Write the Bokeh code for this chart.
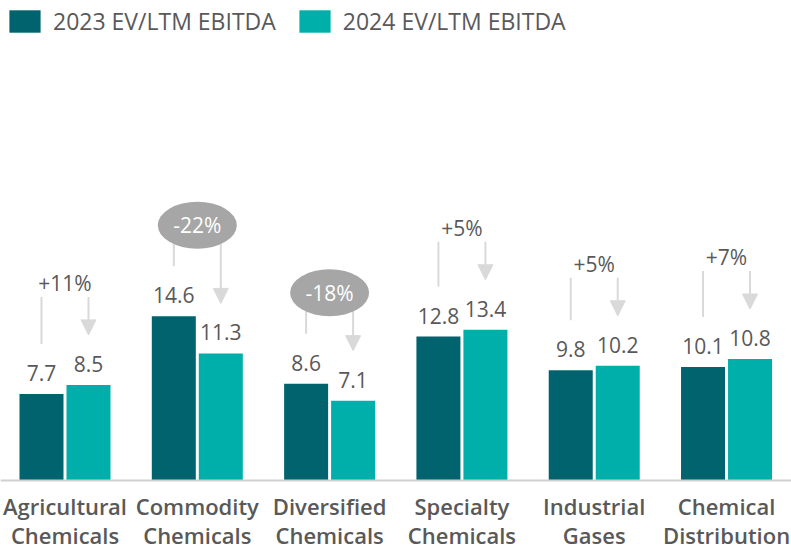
import numpy as np
from bokeh.plotting import figure
from bokeh.models import (ColumnDataSource, Range1d, Span,
                          Arrow, NormalHead, Legend, LegendItem)
from bokeh.core.properties import value
from bokeh.embed import file_html
from bokeh.resources import INLINE

# ---------------- data ----------------
categories_line1 = ["Agricultural", "Commodity", "Diversified", "Specialty", "Industrial", "Chemical"]
categories_line2 = ["Chemicals", "Chemicals", "Chemicals", "Chemicals", "Gases", "Distribution"]
ev_2023 = [7.7, 14.6, 8.6, 12.8, 9.8, 10.1]
ev_2024 = [8.5, 11.3, 7.1, 13.4, 10.2, 10.8]
change_labels = ["+11%", "-22%", "-18%", "+5%", "+5%", "+7%"]
series_names = ["2023 EV/LTM EBITDA", "2024 EV/LTM EBITDA"]

# ---------------- style / layout ----------------
C23 = "#00636E"
C24 = "#00AFAA"
TXT = "#595959"
BRK = "#D9D9D9"
ELL = "#A6A6A6"
FONT = "Open Sans"
FONT_SB = "Open Sans Semibold, Open Sans SemiBold, Open Sans"

W, H = 791, 550
ZERO_PX = 480.0            # screen row of the value 0
SCALE = 11.25              # pixels per unit
PX = 1.0 / SCALE           # data units per pixel
Y_START = -(H - ZERO_PX) * PX
Y_END = ZERO_PX * PX
X_START, X_END = -0.4875, 5.491
OFFSET = 0.1776            # dodge of the two bars
BAR_W = 0.3326

idx = np.arange(len(categories_line1))
v23 = np.array(ev_2023)
v24 = np.array(ev_2024)
x23 = idx - OFFSET
x24 = idx + OFFSET
vmax = np.maximum(v23, v24)
neg = v24 < v23

p = figure(width=W, height=H, output_backend="svg", toolbar_location=None,
           x_range=Range1d(X_START, X_END), y_range=Range1d(Y_START, Y_END),
           x_axis_location=None, y_axis_location=None,
           min_border_left=0, min_border_right=0,
           min_border_top=0, min_border_bottom=0)
p.outline_line_color = None
p.grid.visible = False
p.background_fill_color = "white"

src = ColumnDataSource(dict(x23=x23, x24=x24, v23=v23, v24=v24))
r23 = p.vbar(x="x23", top="v23", width=BAR_W, bottom=0, source=src,
             fill_color=C23, line_color=None)
r24 = p.vbar(x="x24", top="v24", width=BAR_W, bottom=0, source=src,
             fill_color=C24, line_color=None)

# baseline (category axis line)
p.add_layout(Span(location=0, dimension="width", line_color="#D0D0D0",
                  line_width=2))

# value labels
lab = ColumnDataSource(dict(
    x=np.concatenate([x23, x24]),
    y=np.concatenate([v23, v24]) + 21 * PX,
    t=[f"{v:.1f}" for v in ev_2023] + [f"{v:.1f}" for v in ev_2024]))
p.text(x="x", y="y", text="t", source=lab, text_align="center",
       text_baseline="middle", text_font=value(FONT),
       text_font_size="21px", text_color=TXT)

# brackets
label_y = np.where(neg, vmax + 91 * PX, vmax + 102 * PX)
line_top = np.where(neg, label_y, vmax + 88 * PX)
seg = ColumnDataSource(dict(x=x23, y0=v23 + 50 * PX, y1=line_top))
p.segment(x0="x", y0="y0", x1="x", y1="y1", source=seg,
          line_color=BRK, line_width=2)
arr = ColumnDataSource(dict(x=x24, ys=line_top, ye=v24 + 50 * PX))
p.add_layout(Arrow(end=NormalHead(size=15, fill_color=BRK, line_color=BRK),
                   x_start="x", y_start="ys", x_end="x", y_end="ye",
                   source=arr, line_color=BRK, line_width=2, level="underlay"))

# change labels
cs = ColumnDataSource(dict(x=idx[neg].astype(float), y=label_y[neg]))
p.ellipse(x="x", y="y", width=79, height=47, width_units="screen",
          height_units="screen", source=cs, fill_color=ELL, line_color=None)
ct = ColumnDataSource(dict(
    x=idx.astype(float), y=label_y, t=change_labels,
    c=["white" if n else TXT for n in neg]))
p.text(x="x", y="y", text="t", source=ct, text_align="center",
       text_baseline="middle", text_font=value(FONT),
       text_font_size="21px", text_color="c")

# category labels (two lines) below the baseline
cat = ColumnDataSource(dict(
    x=np.concatenate([idx, idx]).astype(float),
    y=np.array([-25.5 * PX] * len(idx) + [-54.0 * PX] * len(idx)),
    t=categories_line1 + categories_line2))
p.text(x="x", y="y", text="t", source=cat, text_align="center",
       text_baseline="middle", text_font=value(FONT_SB),
       text_font_size="22px", text_color=TXT)

legend = Legend(items=[LegendItem(label=series_names[0], renderers=[r23]),
                       LegendItem(label=series_names[1], renderers=[r24])],
                orientation="horizontal", location="top_left",
                glyph_width=39, glyph_height=28, label_standoff=9,
                spacing=19, padding=0, margin=5,
                label_text_font=FONT, label_text_font_size="23px",
                label_text_color=TXT, border_line_color=None,
                background_fill_alpha=0)
p.add_layout(legend)

open("out.html", "w").write(file_html(p, INLINE))
